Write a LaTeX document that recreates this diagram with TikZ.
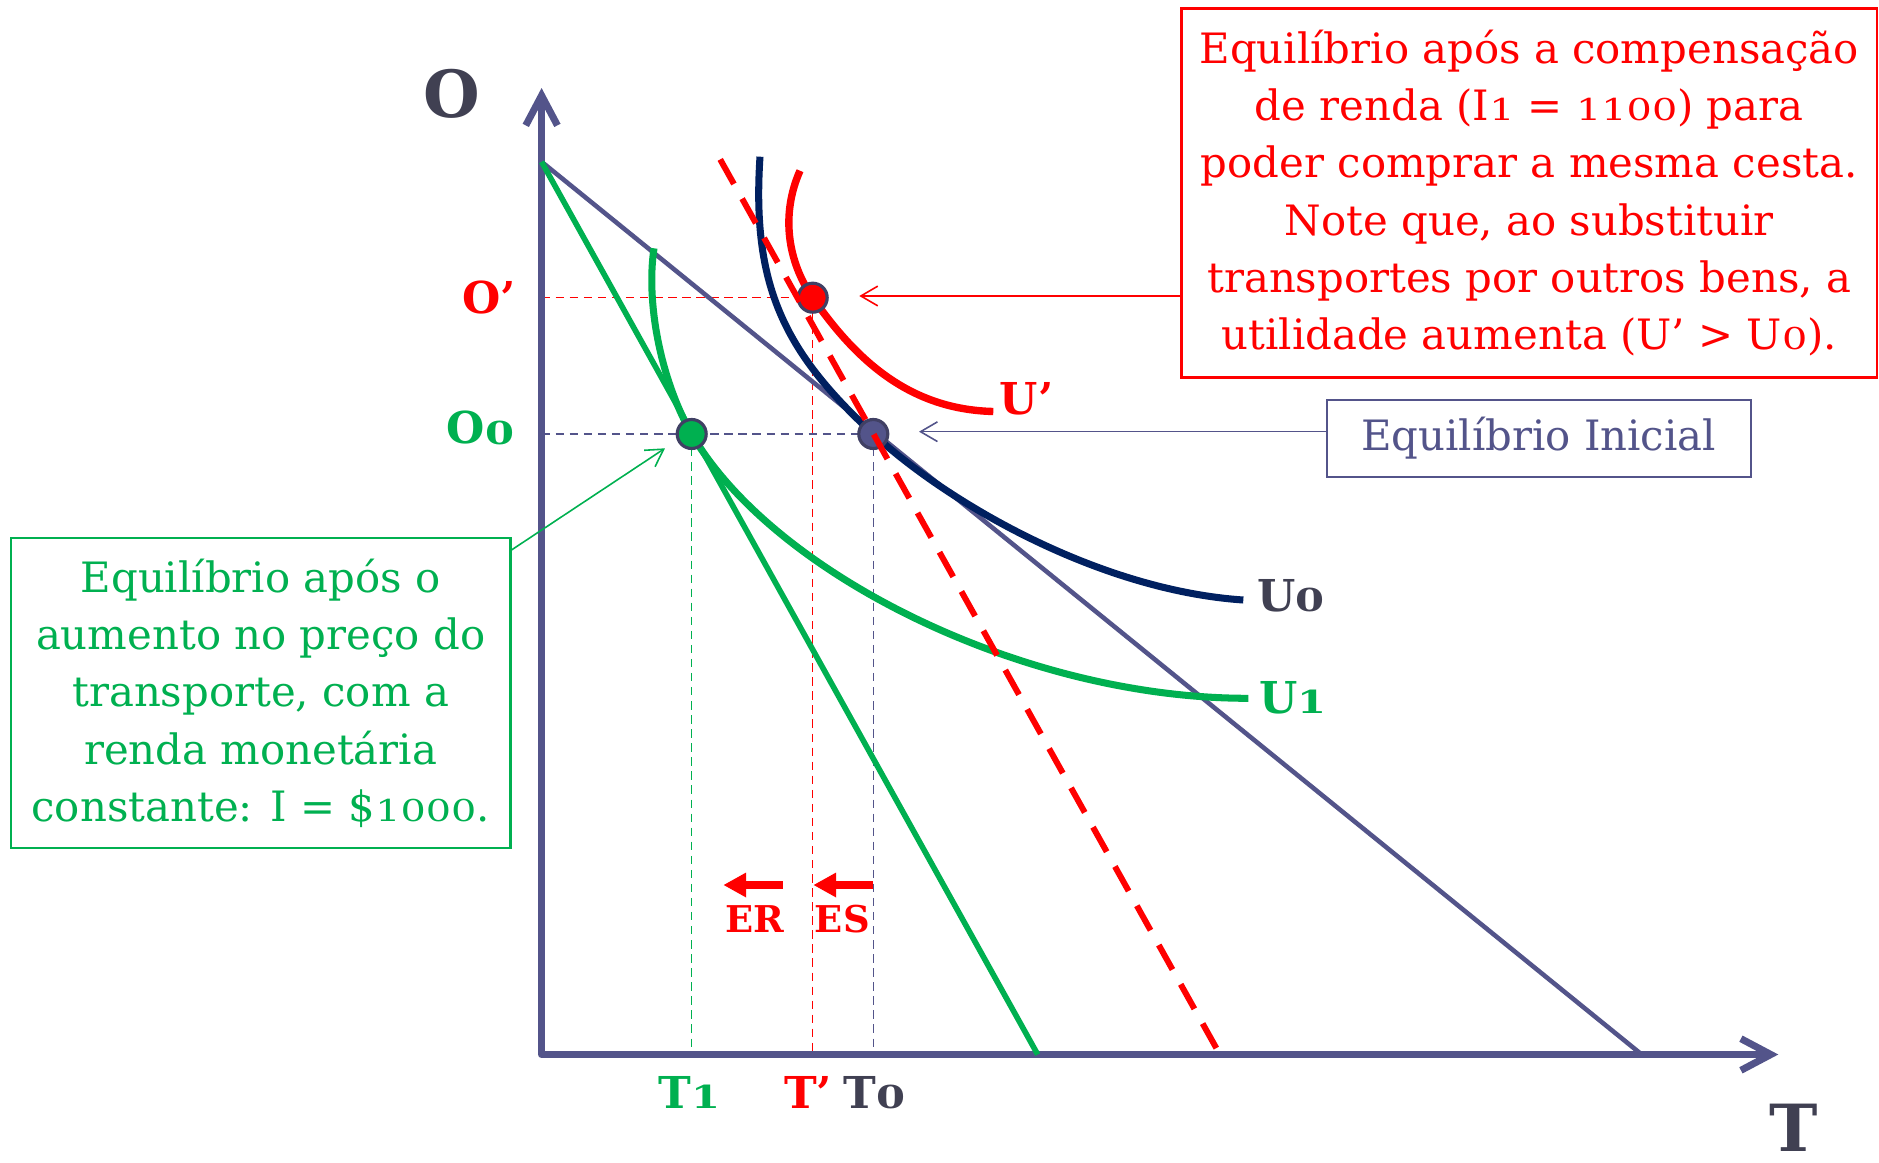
\documentclass[tikz,border=0pt]{standalone}
\usepackage{fontspec}
\setmainfont{DejaVu Serif}
\usepackage{graphicx}
\usetikzlibrary{arrows.meta,calc}

\definecolor{axisblue}{RGB}{83,84,138}
\definecolor{navycurve}{RGB}{0,32,96}
\definecolor{eqgreen}{RGB}{0,176,80}
\definecolor{compred}{RGB}{255,0,0}
\definecolor{labelgray}{RGB}{64,64,82}
\definecolor{dotrim}{RGB}{64,64,100}

% old-style looking figures
\newcommand{\osn}[1]{\scalebox{0.95}[0.72]{#1}}

\begin{document}
\begin{tikzpicture}[
		>=Latex,
		axis/.style={
			draw=axisblue,
			line width=2pt,
			line cap=round,
			line join=round
		},
		budget/.style={
			draw=axisblue,
			line width=1.3pt
		},
		pricedline/.style={
			draw=eqgreen,
			line width=1.6pt
		},
		compline/.style={
			draw=compred,
			line width=1.7pt,
			dash pattern=on 8pt off 4.8pt
		},
		indiff/.style={
			line width=2pt
		},
		guide/.style={
			line width=0.45pt,
			dash pattern=on 2.4pt off 1.6pt
		},
		eqdot/.style={
			circle,
			draw=dotrim,
			line width=0.9pt,
			minimum size=2.9mm,
			inner sep=0pt
		},
		callout/.style={
			-{Straight Barb[length=4.8pt,width=5.6pt]},
			line width=0.45pt
		},
		shiftarrow/.style={
			-{Triangle[length=6.5pt,width=6.6pt]},
			draw=compred,
			line width=2pt
		},
		notebox/.style={
			draw,
			line width=0.6pt,
			fill=white,
			align=center,
			inner sep=0pt,
			font=\fontsize{11.9}{16.3}\selectfont
		},
		axislab/.style={
			font=\fontsize{18.5}{20}\selectfont\bfseries,
			text=labelgray,
			inner sep=0pt
		},
		pointlab/.style={
			font=\fontsize{12.5}{14}\selectfont\bfseries,
			inner sep=0pt
		},
		effect/.style={
			font=\fontsize{10.5}{12}\selectfont\bfseries,
			text=compred,
			inner sep=0pt
		}
	]
		\useasboundingbox (-5.416,-1.075) rectangle (13.374,10.545);

		\coordinate (orig) at (0,0);
		\coordinate (e0) at (3.317,6.205);
		\coordinate (e1) at (1.501,6.205);
		\coordinate (ep) at (2.711,7.568);

		% guides to the axes
		\draw[guide,axisblue] (orig |- e0) -- (e0);
		\draw[guide,axisblue] (e0) -- (e0 |- orig);
		\draw[guide,compred] (orig |- ep) -- (ep);
		\draw[guide,compred] (ep) -- (ep |- orig);
		\draw[guide,eqgreen] (e1) -- (e1 |- orig);

		% axes
		\draw[axis,{Straight Barb[length=8.5pt,width=9pt]}-{Straight Barb[length=8.5pt,width=9pt]}] (0,9.665) |- (12.367,0);

		% budget lines
		\draw[budget] (0,8.927) -- (11.001,0);
		\draw[pricedline] (0,8.927) -- (4.961,0);

		% indifference curves
		\draw[indiff,navycurve] (2.184,8.978) .. controls (2.10,7.70) and (2.417,7.033) .. (e0)
			.. controls (4.097,5.487) and (5.60,4.64) .. (7.017,4.545);
		\draw[indiff,eqgreen] (1.124,8.062) .. controls (1.04,7.50) and (1.201,6.725) .. (e1)
			.. controls (2.301,4.819) and (4.80,3.56) .. (7.067,3.562);
		\draw[indiff,compred,line width=2.1pt] (2.584,8.838) .. controls (2.39,8.40) and (2.46,7.93) .. (ep)
			.. controls (3.161,6.918) and (3.70,6.45) .. (4.517,6.430);

		% equilibria
		\node[eqdot,fill=axisblue] (e0dot) at (e0) {};
		\node[eqdot,fill=eqgreen] (e1dot) at (e1) {};
		\node[eqdot,fill=compred] (epdot) at (ep) {};

		\draw[compline] (1.786,8.951) -- (6.783,0);

		% boxes and callouts
		\node[notebox,draw=compred,text=compred,minimum width=69.55mm,minimum height=36.9mm] (redbox) at (9.8765,8.615) {Equilíbrio após a compensação\\de renda (I\osn{1} = \osn{1100}) para\\poder comprar a mesma cesta.\\Note que, ao substituir\\transportes por outros bens, a\\utilidade aumenta (U’ > U\osn{0}).};
		\node[notebox,draw=axisblue,text=axisblue,minimum width=42.4mm,minimum height=7.67mm] (slatebox) at (9.97,6.161) {Equilíbrio Inicial};
		\node[notebox,draw=eqgreen,text=eqgreen,minimum width=49.97mm,minimum height=31.04mm] (greenbox) at (-2.8095,3.613) {Equilíbrio após o\\aumento no preço do\\transporte, com a\\renda monetária\\constante: I = \$\osn{1000}.};

		\coordinate (redtip) at (3.177,7.585);
		\coordinate (slatetip) at (3.774,6.228);
		\coordinate (greentip) at (1.234,6.062);
		\draw[callout,compred] (redbox.west |- redtip) -- (redtip);
		\draw[callout,axisblue] (slatebox.west |- slatetip) -- (slatetip);
		\draw[callout,eqgreen] ($(greenbox.north east)+(0,-0.13)$) -- (greentip);

		% effects
		\coordinate (ertail) at (2.411,1.695);
		\coordinate (erhead) at (1.817,1.695);
		\coordinate (estail) at (3.317,1.695);
		\coordinate (eshead) at (2.717,1.695);
		\draw[shiftarrow] (ertail) -- (erhead);
		\draw[shiftarrow] (estail) -- (eshead);
		\node[effect] (erlab) at (2.134,1.355) {ER};
		\node[effect] (eslab) at (3.007,1.355) {ES};

		% labels
		\node[axislab] (olab) at (-0.901,9.605) {O};
		\node[axislab] (tlab) at (12.522,-0.73) {T};
		\node[pointlab,text=compred,anchor=east] (oplab) at (-0.249,7.568) {O’};
		\node[pointlab,text=eqgreen,anchor=east] (o0lab) at (-0.266,6.265) {O\osn{0}};
		\node[pointlab,text=eqgreen] (t1lab) at (1.477,-0.38) {T\osn{1}};
		\node[pointlab,text=compred] (tplab) at (2.664,-0.38) {T’};
		\node[pointlab,text=labelgray] (t0lab) at (3.326,-0.38) {T\osn{0}};
		\node[pointlab,text=compred] (uplab) at (4.851,6.555) {U’};
		\node[pointlab,text=labelgray,anchor=west] (u0lab) at (7.151,4.585) {U\osn{0}};
		\node[pointlab,text=eqgreen,anchor=west] (u1lab) at (7.167,3.565) {U\osn{1}};
	\end{tikzpicture}
\end{document}
